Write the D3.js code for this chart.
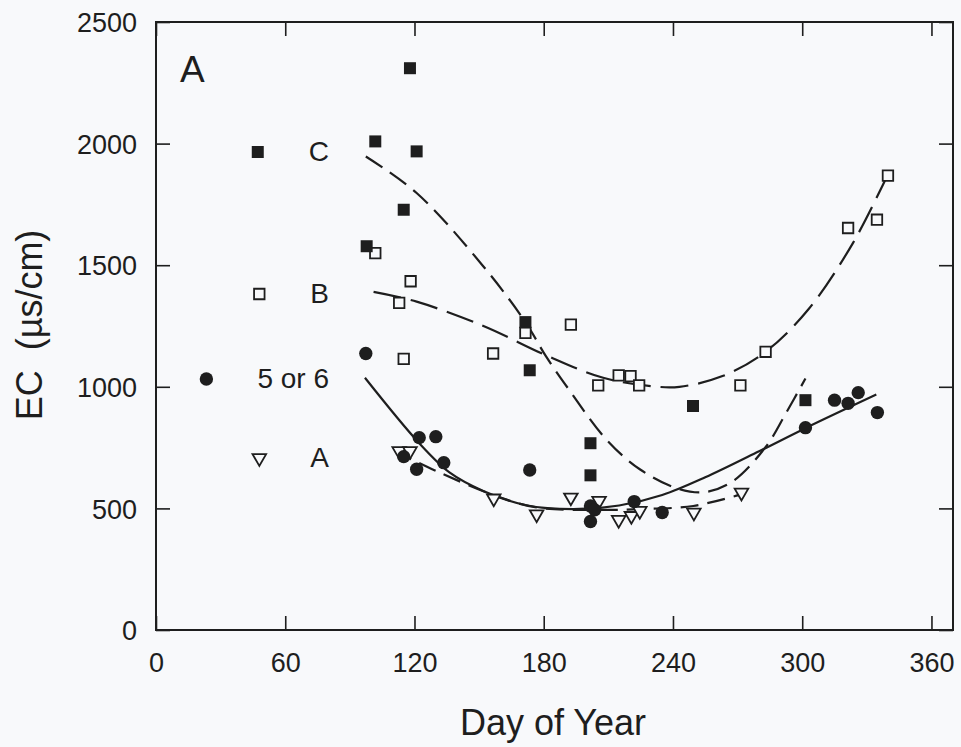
<!DOCTYPE html>
<html>
<head>
<meta charset="utf-8">
<script src="https://cdn.jsdelivr.net/npm/d3@7"></script>
<style>
  body { margin: 0; background: #f8f9fb; }
  svg { display: block; font-family: "Liberation Sans", Arial, sans-serif; }
</style>
</head>
<body>
<svg id="chart" width="961" height="747"></svg>
<script>
// tick values
const xTicks = [0, 60, 120, 180, 240, 300, 360];
const yTicks = [0, 500, 1000, 1500, 2000, 2500];

// observed points [day, EC]
const seriesC = [[117.9, 2310], [101.8, 2009], [121, 1968], [115, 1728], [97.8, 1578],
  [171.5, 1266], [173.5, 1068], [201.7, 768], [201.7, 636], [249.3, 921], [301.5, 945]];
const seriesB = [[101.8, 1550], [118.2, 1434], [112.9, 1345], [115, 1115], [156.5, 1137],
  [171.5, 1222], [192.6, 1256], [205.3, 1006], [214.8, 1047], [220.3, 1044], [224.3, 1006],
  [271.3, 1006], [283, 1144], [321.3, 1653], [334.7, 1687], [339.8, 1868]];
const series56 = [[97.4, 1137], [122.2, 791], [129.9, 795], [115, 713], [133.6, 688],
  [121, 661], [173.5, 658], [201.7, 510], [203.7, 494], [201.7, 446], [222, 528], [235, 483],
  [301.5, 832], [315, 945], [321.3, 932], [326, 976], [334.9, 894]];
const seriesA = [[112.9, 736], [117.9, 736], [156.8, 541], [176.7, 476], [192.6, 545],
  [205.7, 531], [214.8, 453], [220.7, 469], [224.6, 490], [249.7, 483], [271.8, 565]];

// fitted curves [day, EC]
const fitC = [[97.4, 1947], [121, 1797], [151.9, 1496], [171.5, 1266], [181, 1126], [192, 985],
  [209, 784], [224.6, 661], [243, 579], [255.5, 568], [268, 613], [283.4, 757], [292.6, 894], [301.5, 1034]];
const fitB = [[101, 1390], [121, 1350], [152, 1250], [181, 1130], [207.6, 1037], [230.8, 1002],
  [243, 1000], [263, 1044], [283, 1144], [303, 1320], [323.6, 1592], [339.7, 1872]];
const fit56 = [[97, 1037], [122, 770], [136.4, 647], [151.9, 572], [171.9, 513], [193.6, 497],
  [215, 512], [235, 555], [255, 628], [280, 735], [301.5, 830], [334.4, 968]];
const fitA = [[111, 736], [130, 654], [158, 551], [176.7, 504], [209, 494], [224.6, 497],
  [249.4, 510], [271.7, 558]];

const legendLabels = ["C", "B", "5 or 6", "A"];

const ink = "#1e1e1e";
const bg = "#f8f9fb";

const svg = d3.select("#chart");

const x = d3.scaleLinear().domain([0, 370]).range([156, 953]);
const y = d3.scaleLinear().domain([0, 2500]).range([630, 22]);

// axes, ticks pointing inward
svg.append("g")
  .attr("transform", "translate(0," + y(0) + ")")
  .call(d3.axisBottom(x).tickValues(xTicks).tickFormat(d3.format("d"))
    .tickSizeInner(-14).tickSizeOuter(0).tickPadding(23))
  .call(g => g.select(".domain").remove())
  .call(g => g.selectAll("line").attr("stroke", ink).attr("stroke-width", 1.6))
  .call(g => g.selectAll("text").attr("fill", ink).attr("font-size", 27));

svg.append("g")
  .attr("transform", "translate(" + x(0) + ",0)")
  .call(d3.axisLeft(y).tickValues(yTicks).tickFormat(d3.format("d"))
    .tickSizeInner(-14).tickSizeOuter(0).tickPadding(19))
  .call(g => g.select(".domain").remove())
  .call(g => g.selectAll("line").attr("stroke", ink).attr("stroke-width", 1.6))
  .call(g => g.selectAll("text").attr("fill", ink).attr("font-size", 27).attr("dy", "0.36em"));

svg.append("g")
  .attr("transform", "translate(0," + y(2500) + ")")
  .call(d3.axisTop(x).tickValues(xTicks).tickSizeInner(-14).tickSizeOuter(0).tickFormat(""))
  .call(g => g.select(".domain").remove())
  .call(g => g.selectAll("line").attr("stroke", ink).attr("stroke-width", 1.6));

svg.append("g")
  .attr("transform", "translate(" + x(370) + ",0)")
  .call(d3.axisRight(y).tickValues(yTicks).tickSizeInner(-14).tickSizeOuter(0).tickFormat(""))
  .call(g => g.select(".domain").remove())
  .call(g => g.selectAll("line").attr("stroke", ink).attr("stroke-width", 1.6));

svg.append("rect")
  .attr("x", x(0)).attr("y", y(2500))
  .attr("width", x(370) - x(0)).attr("height", y(0) - y(2500))
  .attr("fill", "none").attr("stroke", ink).attr("stroke-width", 2);

// fitted curves
const line = d3.line().x(d => x(d[0])).y(d => y(d[1])).curve(d3.curveCatmullRom.alpha(0.5));
const curves = [
  { data: fitC, dash: "20,9" },
  { data: fitB, dash: "28,10" },
  { data: fit56, dash: null },
  { data: fitA, dash: "18,9" }
];
curves.forEach(c => {
  svg.append("path")
    .attr("d", line(c.data))
    .attr("fill", "none")
    .attr("stroke", ink)
    .attr("stroke-width", 2.2)
    .attr("stroke-dasharray", c.dash);
});

// marker styles
const markers = {
  C: { sym: d3.symbol(d3.symbolSquare, 144)(), fill: ink, stroke: "none", rot: 0 },
  B: { sym: d3.symbol(d3.symbolSquare, 110)(), fill: bg, stroke: ink, rot: 0 },
  S: { sym: d3.symbol(d3.symbolCircle, 140)(), fill: ink, stroke: "none", rot: 0 },
  A: { sym: d3.symbol(d3.symbolTriangle, 80)(), fill: bg, stroke: ink, rot: 180 }
};

function drawPoints(data, m) {
  svg.append("g").selectAll("path")
    .data(data)
    .enter().append("path")
    .attr("d", m.sym)
    .attr("transform", d => "translate(" + x(d[0]) + "," + y(d[1]) + ") rotate(" + m.rot + ")")
    .attr("fill", m.fill)
    .attr("stroke", m.stroke)
    .attr("stroke-width", 1.8);
}
drawPoints(seriesA, markers.A);
drawPoints(seriesB, markers.B);
drawPoints(series56, markers.S);
drawPoints(seriesC, markers.C);

// legend: text right-aligned, symbol to the left of it
const legendRows = [
  { m: markers.C, cy: 151 },
  { m: markers.B, cy: 293 },
  { m: markers.S, cy: 378 },
  { m: markers.A, cy: 457 }
];
legendRows.forEach((r, i) => {
  const t = svg.append("text")
    .attr("x", 329).attr("y", r.cy).attr("dy", "0.36em")
    .attr("text-anchor", "end")
    .attr("font-size", 28)
    .attr("fill", ink)
    .text(legendLabels[i]);
  const left = 329 - t.node().getComputedTextLength();
  svg.append("path")
    .attr("d", r.m.sym)
    .attr("transform", "translate(" + (left - 51) + "," + (r.cy + 1) + ") rotate(" + r.m.rot + ")")
    .attr("fill", r.m.fill)
    .attr("stroke", r.m.stroke)
    .attr("stroke-width", 1.8);
});

// panel letter
svg.append("text")
  .attr("x", 180).attr("y", 82)
  .attr("font-size", 37)
  .attr("fill", ink)
  .text("A");

// axis titles
svg.append("text")
  .attr("x", 553).attr("y", 735)
  .attr("text-anchor", "middle")
  .attr("font-size", 36)
  .attr("fill", ink)
  .text("Day of Year");

svg.append("text")
  .attr("transform", "translate(42,325) rotate(-90)")
  .attr("text-anchor", "middle")
  .attr("font-size", 36)
  .attr("fill", ink)
  .style("white-space", "pre")
  .text("EC  (µs/cm)");
</script>
</body>
</html>
